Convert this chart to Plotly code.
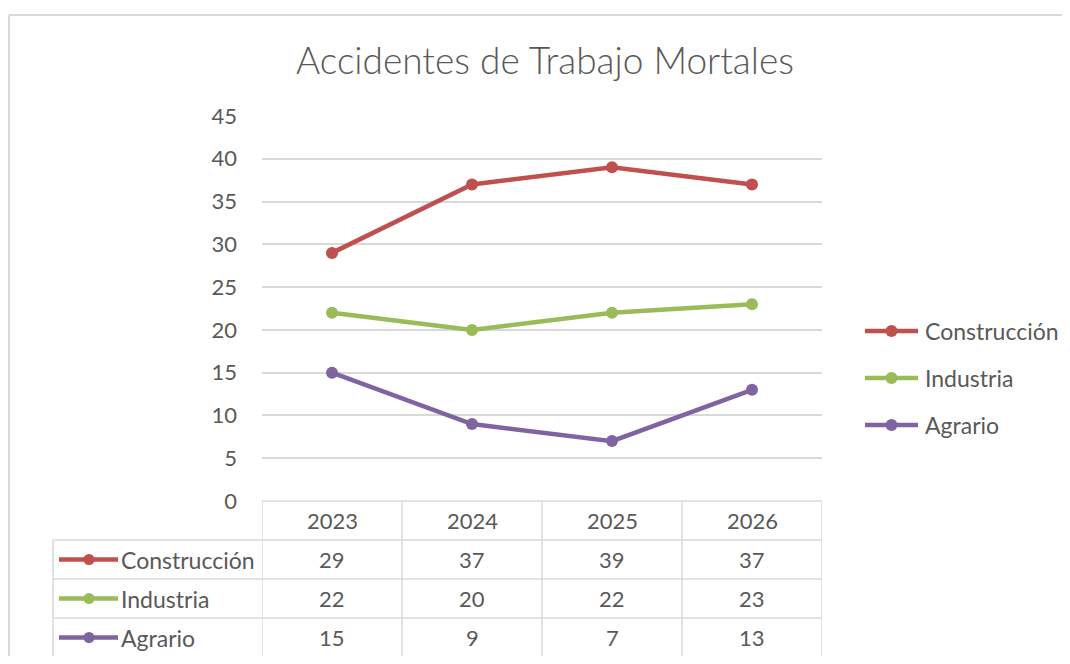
import plotly.graph_objects as go

# ---------------- data ----------------
years = ["2023", "2024", "2025", "2026"]
series_names = ["Construcción", "Industria", "Agrario"]
construccion = [29, 37, 39, 37]
industria = [22, 20, 22, 23]
agrario = [15, 9, 7, 13]
series_values = [construccion, industria, agrario]
series_colors = ["#C0504D", "#9BBB59", "#8064A2"]
title_text = "Accidentes de Trabajo Mortales"
y_ticks = [0, 5, 10, 15, 20, 25, 30, 35, 40, 45]

# ---------------- layout helpers (reference pixel space) ----------------
OFF = 8            # default body margin of the html page
W, H = 1054, 648   # figure size
FONT = "Lato"
TXT = "#595959"
GRID = "#d9d9d9"
FS_NAME = 23
FS_NUM = 22

def px(X):
    return (X - OFF) / W

def py(Y):
    return 1 - (Y - OFF) / H

PLOT_L, PLOT_R, PLOT_T, PLOT_B = 262, 822, 116, 501
TAB_L = 53
ROW_EDGES = [501, 540, 579, 618, 657]
LEG_ROWS = [331, 378, 425]
LEG_BOX = (855, 1060, 300, 450)     # x0, x1, y0, y1
TAB_BOX = (54, 260, 541, 656)

fig = go.Figure()

# main line series
for name, vals, col in zip(series_names, series_values, series_colors):
    fig.add_trace(go.Scatter(
        x=years, y=vals, mode="lines+markers", name=name,
        line=dict(color=col, width=4.5), marker=dict(color=col, size=12),
        xaxis="x", yaxis="y", showlegend=False, hoverinfo="x+y+name",
    ))

# legend keys (x2/y2) and table keys (x3/y3)
for i, (name, col) in enumerate(zip(series_names, series_colors)):
    ly = LEG_ROWS[i]
    fig.add_trace(go.Scatter(
        x=[865, 918], y=[ly, ly], mode="lines", line=dict(color=col, width=4.5),
        xaxis="x2", yaxis="y2", showlegend=False, hoverinfo="skip"))
    fig.add_trace(go.Scatter(
        x=[891.5], y=[ly], mode="markers", marker=dict(color=col, size=12),
        xaxis="x2", yaxis="y2", showlegend=False, hoverinfo="skip"))
    fig.add_annotation(x=px(923), y=py(ly), xref="paper", yref="paper", text=name,
                       showarrow=False, xanchor="left", yanchor="middle",
                       font=dict(family=FONT, size=FS_NAME, color=TXT))
    ty = (ROW_EDGES[i + 1] + ROW_EDGES[i + 2]) / 2
    fig.add_trace(go.Scatter(
        x=[59, 118], y=[ty, ty], mode="lines", line=dict(color=col, width=4.5),
        xaxis="x3", yaxis="y3", showlegend=False, hoverinfo="skip"))
    fig.add_trace(go.Scatter(
        x=[89], y=[ty], mode="markers", marker=dict(color=col, size=11),
        xaxis="x3", yaxis="y3", showlegend=False, hoverinfo="skip"))
    fig.add_annotation(x=px(119), y=py(ty), xref="paper", yref="paper", text=name,
                       showarrow=False, xanchor="left", yanchor="middle",
                       font=dict(family=FONT, size=FS_NAME, color=TXT))
    for k, v in enumerate(series_values[i]):
        fig.add_annotation(x=k, y=py(ty), xref="x", yref="paper", text=str(v),
                           showarrow=False, xanchor="center", yanchor="middle",
                           font=dict(family=FONT, size=FS_NUM, color=TXT))

# header row (years)
hy = (ROW_EDGES[0] + ROW_EDGES[1]) / 2
for k, yr in enumerate(years):
    fig.add_annotation(x=k, y=py(hy), xref="x", yref="paper", text=yr,
                       showarrow=False, xanchor="center", yanchor="middle",
                       font=dict(family=FONT, size=FS_NUM, color=TXT))

# table borders
shapes = []
line_style = dict(color=GRID, width=1.5)
shapes.append(dict(type="line", xref="paper", yref="paper", x0=px(PLOT_L), x1=px(PLOT_R),
                   y0=py(ROW_EDGES[0]), y1=py(ROW_EDGES[0]), line=line_style))
for ye in ROW_EDGES[1:]:
    shapes.append(dict(type="line", xref="paper", yref="paper", x0=px(TAB_L), x1=px(PLOT_R),
                       y0=py(ye), y1=py(ye), line=line_style))
for k in range(len(years) + 1):
    shapes.append(dict(type="line", xref="x", yref="paper", x0=k - 0.5, x1=k - 0.5,
                       y0=py(ROW_EDGES[0]), y1=py(ROW_EDGES[-1]), line=line_style))
shapes.append(dict(type="line", xref="paper", yref="paper", x0=px(TAB_L), x1=px(TAB_L),
                   y0=py(ROW_EDGES[1]), y1=py(ROW_EDGES[-1]), line=line_style))
# outer chart border
shapes.append(dict(type="line", xref="paper", yref="paper", x0=px(9), x1=1, y0=py(15), y1=py(15),
                   line=dict(color=GRID, width=2)))
shapes.append(dict(type="line", xref="paper", yref="paper", x0=px(9), x1=px(9), y0=0, y1=py(15),
                   line=dict(color=GRID, width=2)))

def box_axes(box):
    x0, x1, y0, y1 = box
    xa = dict(domain=[px(x0), px(x1)], range=[x0, x1], visible=False, fixedrange=True)
    ya = dict(domain=[py(y1), py(y0)], range=[y1, y0], visible=False, fixedrange=True)
    return xa, ya

x2a, y2a = box_axes(LEG_BOX)
x3a, y3a = box_axes(TAB_BOX)
x2a["anchor"] = "y2"; y2a["anchor"] = "x2"
x3a["anchor"] = "y3"; y3a["anchor"] = "x3"

fig.update_layout(
    width=W, height=H, autosize=False,
    margin=dict(l=0, r=0, t=0, b=0, pad=0, autoexpand=False),
    paper_bgcolor="white", plot_bgcolor="rgba(0,0,0,0)",
    showlegend=False,
    title=dict(text=title_text, x=px(545), y=py(61), xanchor="center", yanchor="middle",
               xref="paper", yref="paper", automargin=False,
               font=dict(family=FONT, size=37, color=TXT, weight=300)),
    xaxis=dict(domain=[px(PLOT_L), px(PLOT_R)], type="category",
               categoryorder="array", categoryarray=years,
               range=[-0.5, len(years) - 0.5], automargin=False,
               showticklabels=False, showgrid=False, zeroline=False,
               showline=False, ticks="", fixedrange=True),
    yaxis=dict(domain=[py(PLOT_B), py(PLOT_T)], range=[0, 45], automargin=False,
               tickvals=y_ticks, showgrid=True, gridcolor=GRID, gridwidth=1.5,
               zeroline=False, showline=False, ticks="", ticklabelstandoff=24,
               tickfont=dict(family=FONT, size=FS_NUM, color=TXT), fixedrange=True),
    xaxis2=x2a, yaxis2=y2a, xaxis3=x3a, yaxis3=y3a,
    shapes=shapes,
)

fig.write_html("out.html")
